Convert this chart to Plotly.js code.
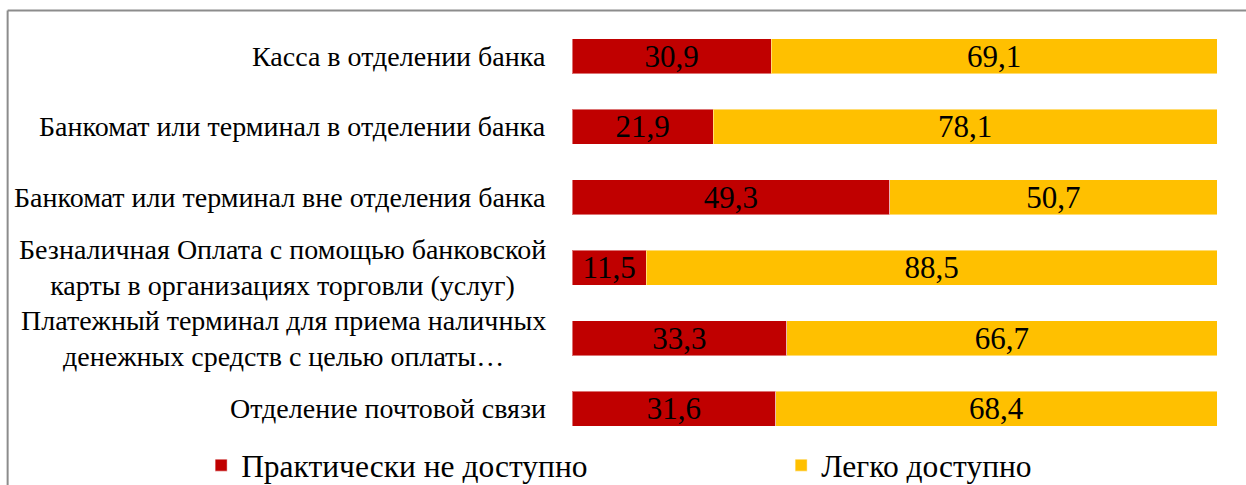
<!DOCTYPE html>
<html>
<head>
<meta charset="utf-8">
<script src="https://cdn.plot.ly/plotly-3.0.1.min.js"></script>
<style>
  html, body { margin: 0; padding: 0; background: #fff; }
  #chart { width: 1246px; height: 485px; }
</style>
</head>
<body>
<div id="chart"></div>
<script>
const categories = [
  "Касса в отделении банка",
  "Банкомат или терминал в отделении банка",
  "Банкомат или терминал вне отделения банка",
  "Безналичная Оплата с помощью банковской<br>карты в организациях торговли (услуг)",
  "Платежный терминал для приема наличных<br>денежных средств с целью оплаты…",
  "Отделение почтовой связи"
];
const notAvailable = [30.9, 21.9, 49.3, 11.5, 33.3, 31.6];
const easyAvailable = [69.1, 78.1, 50.7, 88.5, 66.7, 68.4];
const seriesNames = ["Практически не доступно", "Легко доступно"];
const seriesColors = ["#C00000", "#FFC000"];

const FONT = 'Liberation Serif';

function barTrace(vals, i) {
  return {
    type: 'bar',
    orientation: 'h',
    name: seriesNames[i],
    x: vals,
    y: categories,
    marker: { color: seriesColors[i], line: { color: 'rgba(255,255,255,0.45)', width: 1 } },
    texttemplate: '%{x:.1f}',
    textposition: 'inside',
    insidetextanchor: 'middle',
    constraintext: 'none',
    textfont: { family: FONT, size: 31, color: '#000' },
    hoverinfo: 'skip'
  };
}

const data = [barTrace(notAvailable, 0), barTrace(easyAvailable, 1)];

const annotations = categories.map(c => ({
  xref: 'paper', yref: 'y',
  x: -0.037, y: c,
  xanchor: 'right', yanchor: 'middle',
  align: 'center',
  text: c,
  showarrow: false,
  font: { family: FONT, size: 28, color: '#000' }
}));

const layout = {
  width: 1246, height: 485,
  margin: { l: 572, r: 29, t: 21, b: 41, autoexpand: false },
  paper_bgcolor: '#fff',
  plot_bgcolor: '#fff',
  barmode: 'stack',
  bargap: 0.5,
  separators: ', ',
  showlegend: true,
  xaxis: { range: [0, 100], visible: false, fixedrange: true },
  yaxis: {
    type: 'category',
    categoryorder: 'array',
    categoryarray: categories,
    range: [5.5, -0.5],
    showticklabels: false,
    showgrid: false, zeroline: false, showline: false, ticks: ''
  },
  legend: {
    orientation: 'h',
    x: -0.575, xanchor: 'left',
    y: -0.05, yanchor: 'middle',
    entrywidth: 535, entrywidthmode: 'pixels',
    font: { family: FONT, size: 31.5, color: '#000' },
    traceorder: 'normal',
    bgcolor: 'rgba(0,0,0,0)'
  },
  annotations: annotations,
  shapes: [
    { type: 'line', xref: 'paper', yref: 'paper', x0: -0.875, x1: 1.06, y0: 1.0248, y1: 1.0248,
      line: { color: '#8c8c8c', width: 2 } },
    { type: 'line', xref: 'paper', yref: 'paper', x0: -0.875, x1: -0.875, y0: 1.0248, y1: -0.12,
      line: { color: '#8c8c8c', width: 2 } }
  ]
};

Plotly.newPlot('chart', data, layout, { staticPlot: true, displayModeBar: false });
</script>
</body>
</html>
